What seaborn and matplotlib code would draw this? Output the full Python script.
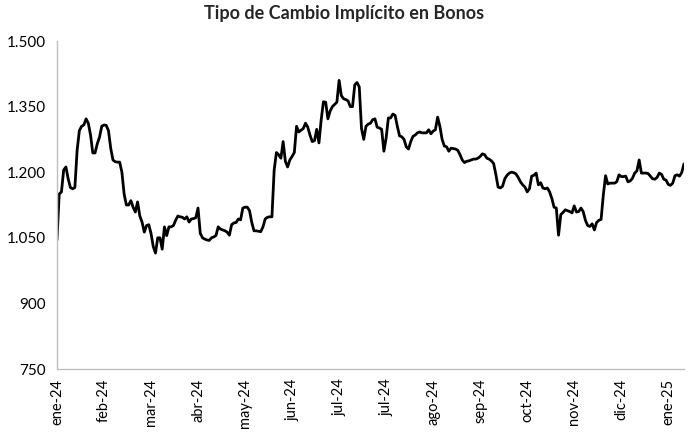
import matplotlib
matplotlib.use("Agg")
import matplotlib.pyplot as plt
import seaborn as sns
import pandas as pd
import numpy as np

title = "Tipo de Cambio Implícito en Bonos"

month_labels = ["ene-24", "feb-24", "mar-24", "abr-24", "may-24", "jun-24", "jul-24",
                "jul-24", "ago-24", "sep-24", "oct-24", "nov-24", "dic-24", "ene-25"]
days_per_label = 21

y_ticks = [750, 900, 1050, 1200, 1350, 1500]
y_tick_labels = ["750", "900", "1.050", "1.200", "1.350", "1.500"]

tc_ene24 = [1045, 1150, 1155, 1205, 1212, 1185, 1165, 1162, 1165, 1250, 1295,
            1305, 1308, 1322, 1312, 1285, 1244, 1244, 1265, 1280, 1305]
tc_feb24 = [1308, 1307, 1295, 1255, 1228, 1224, 1223, 1223, 1200, 1150, 1125,
            1125, 1135, 1120, 1109, 1132, 1100, 1086, 1063, 1078, 1080]
tc_mar24 = [1060, 1030, 1015, 1050, 1050, 1024, 1075, 1055, 1075, 1075, 1078,
            1090, 1100, 1098, 1097, 1093, 1098, 1086, 1093, 1094, 1096]
tc_abr24 = [1118, 1060, 1050, 1047, 1045, 1044, 1050, 1052, 1055, 1075, 1070,
            1068, 1066, 1063, 1056, 1080, 1084, 1085, 1093, 1091, 1118]
tc_may24 = [1120, 1120, 1112, 1085, 1066, 1066, 1065, 1064, 1075, 1093, 1097,
            1098, 1098, 1205, 1245, 1240, 1232, 1270, 1225, 1212, 1228]
tc_jun24 = [1236, 1245, 1305, 1292, 1296, 1300, 1312, 1303, 1285, 1270, 1272,
            1298, 1267, 1320, 1361, 1360, 1322, 1340, 1350, 1355, 1360]
tc_jul24a = [1410, 1375, 1368, 1366, 1363, 1350, 1350, 1400, 1405, 1395, 1300,
             1275, 1305, 1310, 1312, 1320, 1322, 1303, 1301, 1298, 1248]
tc_jul24b = [1278, 1324, 1324, 1333, 1330, 1305, 1283, 1281, 1275, 1258, 1253,
             1270, 1282, 1285, 1290, 1292, 1290, 1290, 1290, 1297, 1288]
tc_ago24 = [1294, 1297, 1326, 1305, 1275, 1260, 1258, 1248, 1255, 1254, 1253,
            1250, 1240, 1228, 1222, 1225, 1226, 1228, 1230, 1230, 1232]
tc_sep24 = [1236, 1242, 1240, 1232, 1230, 1226, 1220, 1195, 1166, 1164, 1168,
            1185, 1193, 1198, 1200, 1199, 1196, 1188, 1178, 1171, 1166]
tc_oct24 = [1155, 1162, 1191, 1193, 1198, 1171, 1176, 1164, 1162, 1164, 1155,
            1140, 1120, 1118, 1056, 1103, 1108, 1114, 1112, 1110, 1107]
tc_nov24 = [1123, 1109, 1110, 1118, 1110, 1090, 1078, 1076, 1082, 1068, 1085,
            1090, 1092, 1148, 1192, 1173, 1175, 1175, 1175, 1178, 1194]
tc_dic24 = [1190, 1190, 1191, 1178, 1180, 1186, 1198, 1203, 1228, 1198, 1198,
            1198, 1197, 1191, 1185, 1184, 1188, 1198, 1195, 1184, 1182]
tc_ene25 = [1172, 1170, 1175, 1192, 1194, 1191, 1199, 1219]

values = (tc_ene24 + tc_feb24 + tc_mar24 + tc_abr24 + tc_may24 + tc_jun24 + tc_jul24a
          + tc_jul24b + tc_ago24 + tc_sep24 + tc_oct24 + tc_nov24 + tc_dic24 + tc_ene25)

df = pd.DataFrame({"dia": np.arange(len(values)), "tc": values})

sns.set_theme(style="white")
plt.rcParams["font.family"] = ["Lato", "DejaVu Sans"]

fig = plt.figure(figsize=(6.88, 4.33), dpi=100)
ax = fig.add_axes([0.0828, 0.1478, 0.9113, 0.7575])

sns.lineplot(data=df, x="dia", y="tc", ax=ax, color="black", linewidth=2.0)

ax.set_xlim(0, len(values) - 1)
ax.set_ylim(750, 1500)
ax.set_yticks(y_ticks)
ax.set_yticklabels(y_tick_labels, fontsize=11)
ax.set_xticks(np.arange(len(month_labels)) * days_per_label)
ax.set_xticklabels(month_labels, rotation=90, fontsize=10.5)
ax.set_xlabel("")
ax.set_ylabel("")

for s in ["top", "right"]:
    ax.spines[s].set_visible(False)
for s in ["left", "bottom"]:
    ax.spines[s].set_color("#BFBFBF")
    ax.spines[s].set_linewidth(1.0)

ax.tick_params(axis="both", which="major", direction="out", length=4, width=1,
               color="#BFBFBF", labelcolor="black", pad=3)
ax.tick_params(axis="y", pad=4)

fig.suptitle(title, x=0.5, y=0.988, fontsize=13, fontweight="bold")

fig.savefig("out.png", dpi=100)
